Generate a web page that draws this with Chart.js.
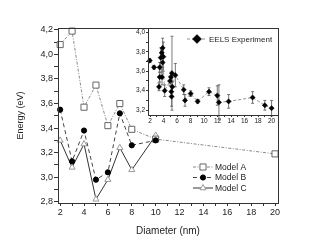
<!DOCTYPE html>
<html>
<head>
<meta charset="utf-8">
<script src="https://cdn.jsdelivr.net/npm/chart.js@4.4.1/dist/chart.umd.min.js"></script>
<style>
  html, body { margin: 0; padding: 0; background: #fff; }
  #wrap  { position: relative; width: 324px; height: 244px; }
  #main  { position: absolute; left: 0; top: 0; }
  #inset { position: absolute; left: 128px; top: 20px; }
</style>
</head>
<body>
<div id="wrap">
  <canvas id="main" width="324" height="244"></canvas>
  <canvas id="inset" width="155" height="110"></canvas>
</div>
<script>
// ── Data ──────────────────────────────────────────────────────────────────────
const diameters = [2, 3, 4, 5, 6, 7, 8, 10, 20];
const modelA    = [4.08, 4.19, 3.57, 3.75, 3.42, 3.60, 3.39, 3.31, 3.19];
const modelB    = [3.55, 3.13, 3.38, 2.98, 3.04, 3.52, 3.26, 3.30, null];
const modelC    = [3.30, 3.08, 3.27, 2.82, 2.98, 3.24, 3.06, 3.34, null];

// inset: EELS experiment (diameter, energy, error)
const eelsD   = [1.96, 2.59, 3.43, 3.43, 3.33, 3.58, 3.78, 3.73, 3.87, 3.97, 3.87, 4.17,
                 4.96, 5.10, 5.15, 5.20, 5.25, 5.30, 5.75, 6.99, 7.18, 8.02, 9.05, 10.73,
                 11.96, 12.20, 13.64, 17.19, 19.00, 20.00];
const eelsE   = [3.71, 3.64, 3.64, 3.54, 3.44, 3.74, 3.54, 3.79, 3.84, 3.75, 3.69, 3.40,
                 3.50, 3.54, 3.39, 3.34, 3.58, 3.44, 3.56, 3.41, 3.30, 3.37, 3.29, 3.39,
                 3.35, 3.28, 3.29, 3.33, 3.25, 3.22];
const eelsErr = [0.02, 0.02, 0.05, 0.05, 0.04, 0.10, 0.08, 0.05, 0.10, 0.15, 0.05, 0.06,
                 0.05, 0.05, 0.06, 0.10, 0.38, 0.05, 0.12, 0.05, 0.06, 0.03, 0.02, 0.04,
                 0.10, 0.18, 0.07, 0.06, 0.05, 0.08];

const FONT = "'Liberation Sans', Arial, sans-serif";
Chart.defaults.font.family = FONT;
Chart.defaults.color = '#222';

const pts = vals => diameters.map((d, i) => ({ x: d, y: vals[i] })).filter(p => p.y != null);

const commaLabel = v => {
  const k = Math.round(v * 10);
  return k % 2 === 0 ? (k / 10).toFixed(1).replace('.', ',') : '';
};

// ── Plugins ───────────────────────────────────────────────────────────────────
const frame = {
  id: 'frame',
  afterDraw(chart) {
    const { ctx, chartArea: a } = chart;
    ctx.save();
    ctx.strokeStyle = '#333';
    ctx.lineWidth = 1;
    ctx.strokeRect(Math.round(a.left) + 0.5, Math.round(a.top) + 0.5,
                   Math.round(a.right - a.left), Math.round(a.bottom - a.top));
    ctx.restore();
  }
};

const whiteArea = {
  id: 'whiteArea',
  beforeDraw(chart) {
    const { ctx, chartArea: a } = chart;
    ctx.save();
    ctx.fillStyle = '#fff';
    ctx.fillRect(a.left, a.top, a.right - a.left, a.bottom - a.top);
    ctx.restore();
  }
};

function legendRow(ctx, ds, x, y, label, size) {
  ctx.save();
  ctx.strokeStyle = ds.borderColor;
  ctx.lineWidth = ds.borderWidth;
  ctx.setLineDash(ds.borderDash || []);
  ctx.beginPath();
  ctx.moveTo(x, y);
  ctx.lineTo(x + 20, y);
  ctx.stroke();
  ctx.setLineDash([]);
  ctx.fillStyle = ds.pointBackgroundColor;
  ctx.strokeStyle = ds.pointBorderColor;
  ctx.lineWidth = ds.pointBorderWidth;
  Chart.helpers.drawPoint(ctx, {
    pointStyle: ds.pointStyle, radius: ds.legendRadius || ds.pointRadius,
    rotation: 0, borderWidth: ds.pointBorderWidth
  }, x + 10, y);
  ctx.fillStyle = '#222';
  ctx.font = `${size}px ${FONT}`;
  ctx.textBaseline = 'middle';
  ctx.fillText(label, x + 22, y + 0.5);
  ctx.restore();
}

const mainLegend = {
  id: 'mainLegend',
  afterDraw(chart) {
    const rows = [167, 177.5, 188];
    chart.data.datasets.forEach((ds, i) => legendRow(chart.ctx, ds, 193, rows[i], ds.label, 8.5));
  }
};

const insetLegend = {
  id: 'insetLegend',
  afterDraw(chart) {
    const ds = chart.data.datasets[0];
    legendRow(chart.ctx, ds, 187 - 128, 39 - 20, ds.label, 8);
  }
};

const errorBars = {
  id: 'errorBars',
  beforeDatasetsDraw(chart) {
    const { ctx, scales: { x, y } } = chart;
    ctx.save();
    ctx.strokeStyle = '#555';
    ctx.lineWidth = 0.8;
    eelsD.forEach((d, i) => {
      const px = x.getPixelForValue(d);
      const top = y.getPixelForValue(eelsE[i] + eelsErr[i]);
      const bot = y.getPixelForValue(eelsE[i] - eelsErr[i]);
      ctx.beginPath();
      ctx.moveTo(px, top); ctx.lineTo(px, bot);
      ctx.moveTo(px - 1.5, top); ctx.lineTo(px + 1.5, top);
      ctx.moveTo(px - 1.5, bot); ctx.lineTo(px + 1.5, bot);
      ctx.stroke();
    });
    ctx.restore();
  }
};

// ── Main chart ────────────────────────────────────────────────────────────────
new Chart(document.getElementById('main'), {
  type: 'line',
  data: {
    datasets: [
      {
        label: 'Model A', data: pts(modelA), order: 1, clip: false,
        borderColor: '#8a8a8a', borderWidth: 1, borderDash: [3, 1.5, 1, 1.5],
        pointStyle: 'rect', pointRadius: 4.3, legendRadius: 4.3,
        pointBackgroundColor: '#fff', pointBorderColor: '#666', pointBorderWidth: 1,
      },
      {
        label: 'Model B', data: pts(modelB), order: 0, clip: false,
        borderColor: '#444', borderWidth: 1, borderDash: [4, 3],
        pointStyle: 'circle', pointRadius: 2.6,
        pointBackgroundColor: '#000', pointBorderColor: '#000', pointBorderWidth: 1,
      },
      {
        label: 'Model C', data: pts(modelC), order: 2, clip: false,
        borderColor: '#333', borderWidth: 1,
        pointStyle: 'triangle', pointRadius: 3.5,
        pointBackgroundColor: '#fff', pointBorderColor: '#999', pointBorderWidth: 1,
      },
    ]
  },
  options: {
    responsive: false,
    animation: false,
    layout: { padding: { top: 28, right: 46, left: 0, bottom: 0 } },
    plugins: { legend: { display: false }, tooltip: { enabled: false } },
    scales: {
      x: {
        type: 'linear', min: 1.82, max: 20.25,
        ticks: {
          stepSize: 1, autoSkip: false, includeBounds: false, maxRotation: 0, padding: 1,
          font: { size: 9 }, color: '#222',
          callback: v => (v % 2 === 0 ? String(v) : ''),
        },
        grid: { drawOnChartArea: false, tickLength: 3, color: '#333' },
        border: { color: '#333', width: 1 },
        title: { display: true, text: 'Diameter (nm)', font: { size: 10 }, color: '#222',
                 padding: { top: 0, bottom: 7 } },
        afterFit: s => { s.height = 41; },
      },
      y: {
        type: 'linear', min: 2.79, max: 4.215,
        ticks: {
          stepSize: 0.1, autoSkip: false, includeBounds: false, padding: 1,
          font: { size: 9 }, color: '#222', callback: commaLabel,
        },
        grid: { drawOnChartArea: false, tickLength: 4, color: '#333' },
        border: { color: '#333', width: 1 },
        title: { display: true, text: 'Energy (eV)', font: { size: 9 }, color: '#222',
                 padding: { top: 15, bottom: 0 } },
        afterFit: s => { s.width = 58; },
      }
    }
  },
  plugins: [frame, mainLegend]
});

// ── Inset chart ───────────────────────────────────────────────────────────────
new Chart(document.getElementById('inset'), {
  type: 'line',
  data: {
    datasets: [{
      label: 'EELS Experiment',
      data: eelsD.map((d, i) => ({ x: d, y: eelsE[i] })),
      clip: false,
      borderColor: '#777', borderWidth: 0.8, borderDash: [3, 2],
      pointStyle: 'rectRot', pointRadius: 2.6, legendRadius: 4.5,
      pointBackgroundColor: '#000', pointBorderColor: '#000', pointBorderWidth: 0.5,
    }]
  },
  options: {
    responsive: false,
    animation: false,
    layout: { padding: { top: 8, right: 5, left: 0, bottom: 0 } },
    plugins: { legend: { display: false }, tooltip: { enabled: false } },
    scales: {
      x: {
        type: 'linear', min: 1.7, max: 20.95,
        ticks: {
          stepSize: 1, autoSkip: false, includeBounds: false, maxRotation: 0, padding: 0,
          font: { size: 6.5 }, color: '#222',
          callback: v => (v % 2 === 0 ? String(v) : ''),
        },
        grid: { drawOnChartArea: false, tickLength: 2, color: '#333' },
        border: { color: '#333', width: 1 },
        afterFit: s => { s.height = 15; },
      },
      y: {
        type: 'linear', min: 3.15, max: 4.045,
        ticks: {
          stepSize: 0.1, autoSkip: false, includeBounds: false, padding: 1,
          font: { size: 6.5 }, color: '#222', callback: commaLabel,
        },
        grid: { drawOnChartArea: false, tickLength: 2, color: '#333' },
        border: { color: '#333', width: 1 },
        afterFit: s => { s.width = 20; },
      }
    }
  },
  plugins: [whiteArea, errorBars, frame, insetLegend]
});
</script>
</body>
</html>
